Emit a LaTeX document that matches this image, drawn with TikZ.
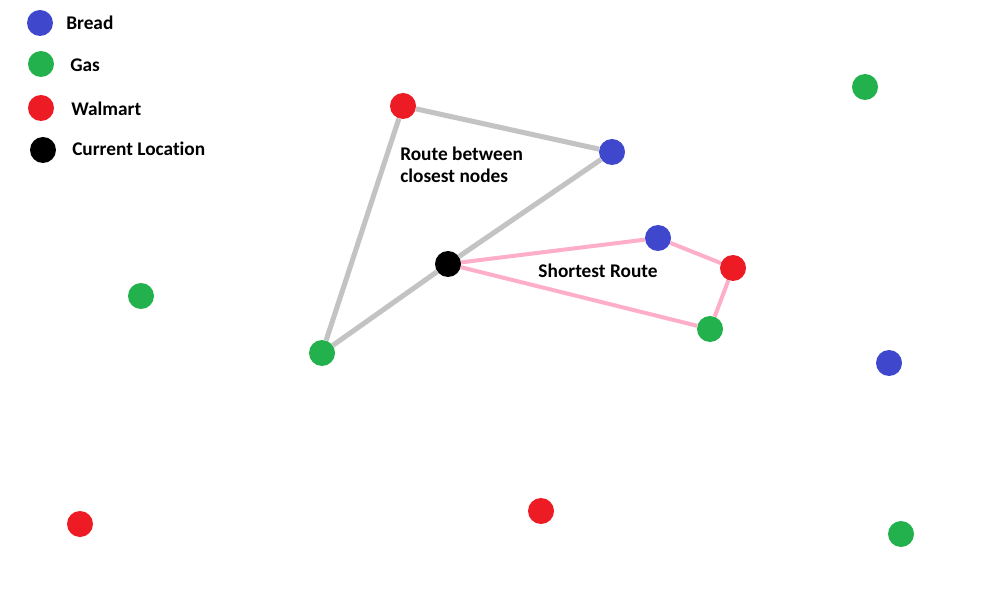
\documentclass[tikz,border=0pt]{standalone}
\usepackage{fontspec}
\setmainfont[Ligatures=NoCommon]{Carlito}
\usepackage{tikz}
\usetikzlibrary{positioning}
\definecolor{bread}{HTML}{3F48CC}
\definecolor{gas}{HTML}{22B14C}
\definecolor{walmart}{HTML}{ED1C24}
\definecolor{edgegray}{HTML}{C3C3C3}
\definecolor{edgepink}{HTML}{FFAEC9}
\tikzset{
  dot/.style={circle, minimum size=19.5pt, inner sep=0pt},
  breaddot/.style={dot, fill=bread},
  gasdot/.style={dot, fill=gas},
  walmartdot/.style={dot, fill=walmart},
  curdot/.style={dot, fill=black},
  lbl/.style={font=\bfseries\fontsize{14.5}{16.5}\selectfont, inner sep=0pt},
  closeline/.style={edgegray, line width=3.8pt},
  shortline/.style={edgepink, line width=3pt}
}
\begin{document}
\begin{tikzpicture}[x=0.75pt, y=-0.75pt]
\useasboundingbox (0,0) rectangle (984,591);
% ---- legend
\node[breaddot]   (lb) at (40,23) {};
\node[gasdot]     (lg) at (41,64) {};
\node[walmartdot] (lw) at (41,108) {};
\node[curdot]     (lc) at (43,150) {};
\node[lbl, anchor=west] (tb) at (66,23)  {Bread};
\node[lbl, anchor=west] (tg) at (70,65)  {Gas};
\node[lbl, anchor=west] (tw) at (71,109) {Walmart};
\node[lbl, anchor=west] (tc) at (72,149) {Current Location};
% ---- places
\node[curdot]     (cur) at (448,264) {};
\node[walmartdot] (w1)  at (403,106) {};
\node[breaddot]   (b1)  at (612,152) {};
\node[gasdot]     (g1)  at (322,353) {};
\node[breaddot]   (b2)  at (658,238) {};
\node[walmartdot] (w2)  at (733,268) {};
\node[gasdot]     (g2)  at (710,329) {};
\node[gasdot]     (g3)  at (865,87)  {};
\node[gasdot]     (g4)  at (141,296) {};
\node[breaddot]   (b3)  at (889,363) {};
\node[walmartdot] (w3)  at (80,524)  {};
\node[walmartdot] (w4)  at (541,511) {};
\node[gasdot]     (g5)  at (901,534) {};
% ---- route between closest nodes (grey)
\draw[closeline] (w1) -- (b1);
\draw[closeline] (w1) -- (g1);
\draw[closeline] (cur) -- (b1);
\draw[closeline] (cur) -- (g1);
% ---- shortest route (pink)
\draw[shortline] (cur) -- (b2) -- (w2) -- (g2) -- (cur);
% ---- labels
\node[lbl, anchor=north west, align=left] (tclose) at (400,147)
  {Route between\\closest nodes};
\node[lbl] (tshort) at (598,271) {Shortest Route};
\end{tikzpicture}
\end{document}
